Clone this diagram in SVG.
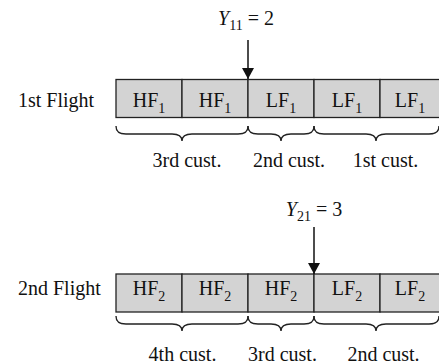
<svg xmlns="http://www.w3.org/2000/svg" width="439" height="364" viewBox="0 0 439 364">
  <style>
    text { font-family: "Liberation Serif", "Times New Roman", serif; font-size: 20px; fill: #111; }
    .cell rect { fill: #d3d3d3; stroke: #222; stroke-width: 1.3; }
    .cell text { text-anchor: middle; }
    .sub { font-size: 14px; }
    .brace { fill: none; stroke: #222; stroke-width: 1.4; }
    .arrow { stroke: #111; stroke-width: 1.5; fill: none; }
    .lbl { text-anchor: middle; }
  </style>
  <defs>
    <marker id="head" viewBox="0 0 11 12" refX="11" refY="6" markerWidth="11" markerHeight="12" markerUnits="userSpaceOnUse" orient="auto">
      <path d="M0,0 L11,6 L0,12 Z" fill="#111"/>
    </marker>
  </defs>

  <!-- row labels -->
  <text x="18" y="106.5">1st Flight</text>
  <text x="18" y="295">2nd Flight</text>

  <!-- 1st flight seats -->
  <g id="f1c1" class="cell"><rect x="116" y="79.5" width="66" height="38"/><text x="149" y="106.5">HF<tspan class="sub" dy="6">1</tspan></text></g>
  <g id="f1c2" class="cell"><rect x="182" y="79.5" width="66" height="38"/><text x="215" y="106.5">HF<tspan class="sub" dy="6">1</tspan></text></g>
  <g id="f1c3" class="cell"><rect x="248" y="79.5" width="66" height="38"/><text x="281" y="106.5">LF<tspan class="sub" dy="6">1</tspan></text></g>
  <g id="f1c4" class="cell"><rect x="314" y="79.5" width="66" height="38"/><text x="347" y="106.5">LF<tspan class="sub" dy="6">1</tspan></text></g>
  <g id="f1c5" class="cell"><rect x="380" y="79.5" width="66" height="38"/><text x="410" y="106.5">LF<tspan class="sub" dy="6">1</tspan></text></g>

  <!-- 2nd flight seats -->
  <g id="f2c1" class="cell"><rect x="116" y="274" width="66" height="38"/><text x="149" y="295">HF<tspan class="sub" dy="6">2</tspan></text></g>
  <g id="f2c2" class="cell"><rect x="182" y="274" width="66" height="38"/><text x="215" y="295">HF<tspan class="sub" dy="6">2</tspan></text></g>
  <g id="f2c3" class="cell"><rect x="248" y="274" width="66" height="38"/><text x="281" y="295">HF<tspan class="sub" dy="6">2</tspan></text></g>
  <g id="f2c4" class="cell"><rect x="314" y="274" width="66" height="38"/><text x="347" y="295">LF<tspan class="sub" dy="6">2</tspan></text></g>
  <g id="f2c5" class="cell"><rect x="380" y="274" width="66" height="38"/><text x="410" y="295">LF<tspan class="sub" dy="6">2</tspan></text></g>

  <!-- booking limit markers -->
  <g id="connectors">
    <line class="arrow" x1="248" y1="40" x2="248" y2="79" marker-end="url(#head)"/>
    <line class="arrow" x1="314" y1="227" x2="314" y2="274" marker-end="url(#head)"/>
  </g>
  <text x="246" y="25" class="lbl"><tspan font-style="italic">Y</tspan><tspan class="sub" dy="5">11</tspan><tspan dy="-5"> = 2</tspan></text>
  <text x="314" y="215.5" class="lbl"><tspan font-style="italic">Y</tspan><tspan class="sub" dy="5">21</tspan><tspan dy="-5"> = 3</tspan></text>

  <!-- customer groupings, 1st flight -->
  <g id="braces1">
    <path class="brace" d="M116,126 C116,131 118,134 126,134 L172,134 C179,134 182,136 182,141 C182,136 185,134 192,134 L238,134 C246,134 248,131 248,126"/>
    <path class="brace" d="M248,126 C248,131 250,134 258,134 L271,134 C278,134 281,136 281,141 C281,136 284,134 291,134 L304,134 C312,134 314,131 314,126"/>
    <path class="brace" d="M314,126 C314,131 316,134 324,134 L366,134 C373,134 376,136 376,141 C376,136 379,134 386,134 L429,134 C437,134 439,131 439,126"/>
  </g>
  <text x="187" y="166.5" class="lbl">3rd cust.</text>
  <text x="289" y="166.5" class="lbl">2nd cust.</text>
  <text x="385.5" y="166.5" class="lbl">1st cust.</text>

  <!-- customer groupings, 2nd flight -->
  <g id="braces2">
    <path class="brace" d="M116,316 C116,321 118,324 126,324 L172,324 C179,324 182,326 182,331 C182,326 185,324 192,324 L238,324 C246,324 248,321 248,316"/>
    <path class="brace" d="M248,316 C248,321 250,324 258,324 L271,324 C278,324 281,326 281,331 C281,326 284,324 291,324 L304,324 C312,324 314,321 314,316"/>
    <path class="brace" d="M314,316 C314,321 316,324 324,324 L366,324 C373,324 376,326 376,331 C376,326 379,324 386,324 L429,324 C437,324 439,321 439,316"/>
  </g>
  <text x="182.5" y="361" class="lbl">4th cust.</text>
  <text x="282.5" y="361" class="lbl">3rd cust.</text>
  <text x="383.5" y="361" class="lbl">2nd cust.</text>
</svg>
